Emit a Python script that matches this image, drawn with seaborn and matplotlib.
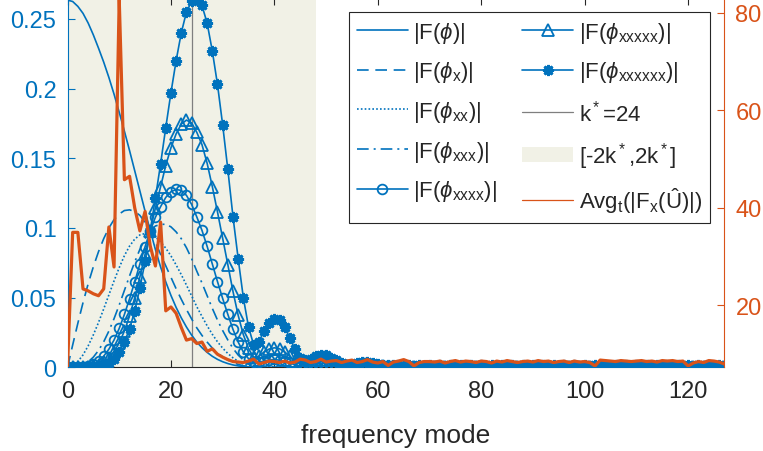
import matplotlib
matplotlib.use('Agg')
import matplotlib.pyplot as plt
from matplotlib.lines import Line2D
from matplotlib.patches import Patch
import seaborn as sns

# frequency modes 0..127
modes = list(range(128))
k_star = 24
band = [-2 * k_star, 2 * k_star]

# |F(phi)| and its derivatives (left axis)
phi = [0.2635, 0.2625, 0.2590, 0.2540, 0.2470, 0.2385, 0.2290, 0.2190, 0.2080, 0.1960, 0.1830, 0.1695, 0.1555, 0.1410, 0.1265, 0.1120,
       0.0980, 0.0845, 0.0720, 0.0613, 0.0516, 0.0430, 0.0355, 0.0289, 0.0231, 0.0181, 0.0141, 0.0107, 0.0079, 0.0057, 0.0040, 0.0027,
       0.0017, 0.0010, 0.0005, 0.0003, 0.0001, 0.0001, 0, 0, 0, 0, 0, 0, 0, 0, 0, 0,
       0, 0, 0, 0, 0, 0, 0, 0, 0, 0, 0, 0, 0, 0, 0, 0,
       0, 0, 0, 0, 0, 0, 0, 0, 0, 0, 0, 0, 0, 0, 0, 0,
       0, 0, 0, 0, 0, 0, 0, 0, 0, 0, 0, 0, 0, 0, 0, 0,
       0, 0, 0, 0, 0, 0, 0, 0, 0, 0, 0, 0, 0, 0, 0, 0,
       0, 0, 0, 0, 0, 0, 0, 0, 0, 0, 0, 0, 0, 0, 0, 0]

phi_x = [0.0, 0.0160, 0.0316, 0.0464, 0.0600, 0.0722, 0.0830, 0.0923, 0.1000, 0.1060, 0.1100, 0.1125, 0.1130, 0.1118, 0.1090, 0.1040,
         0.0975, 0.0898, 0.0810, 0.0728, 0.0645, 0.0564, 0.0488, 0.0415, 0.0347, 0.0283, 0.0229, 0.0181, 0.0138, 0.0103, 0.0075, 0.0052,
         0.0034, 0.0021, 0.0011, 0.0006, 0.0003, 0.0002, 0.0001, 0.0001, 0, 0, 0, 0, 0, 0, 0, 0,
         0, 0, 0, 0, 0, 0, 0, 0, 0, 0, 0, 0, 0, 0, 0, 0,
         0, 0, 0, 0, 0, 0, 0, 0, 0, 0, 0, 0, 0, 0, 0, 0,
         0, 0, 0, 0, 0, 0, 0, 0, 0, 0, 0, 0, 0, 0, 0, 0,
         0, 0, 0, 0, 0, 0, 0, 0, 0, 0, 0, 0, 0, 0, 0, 0,
         0, 0, 0, 0, 0, 0, 0, 0, 0, 0, 0, 0, 0, 0, 0, 0]

phi_xx = [0.0, 0.0010, 0.0041, 0.0089, 0.0154, 0.0233, 0.0322, 0.0419, 0.0520, 0.0620, 0.0715, 0.0801, 0.0870, 0.0920, 0.0950, 0.0960,
          0.0955, 0.0935, 0.0900, 0.0855, 0.0800, 0.0735, 0.0665, 0.0590, 0.0512, 0.0435, 0.0365, 0.0298, 0.0237, 0.0183, 0.0138, 0.0099,
          0.0068, 0.0043, 0.0024, 0.0013, 0.0007, 0.0004, 0.0003, 0.0003, 0.0003, 0.0003, 0.0002, 0.0001, 0.0001, 0, 0, 0,
          0, 0, 0, 0, 0, 0, 0, 0, 0, 0, 0, 0, 0, 0, 0, 0,
          0, 0, 0, 0, 0, 0, 0, 0, 0, 0, 0, 0, 0, 0, 0, 0,
          0, 0, 0, 0, 0, 0, 0, 0, 0, 0, 0, 0, 0, 0, 0, 0,
          0, 0, 0, 0, 0, 0, 0, 0, 0, 0, 0, 0, 0, 0, 0, 0,
          0, 0, 0, 0, 0, 0, 0, 0, 0, 0, 0, 0, 0, 0, 0, 0]

phi_xxx = [0.0, 0.0001, 0.0005, 0.0017, 0.0039, 0.0073, 0.0121, 0.0183, 0.0260, 0.0349, 0.0447, 0.0551, 0.0656, 0.0756, 0.0847, 0.0923,
           0.0980, 0.1014, 0.1025, 0.1027, 0.1008, 0.0972, 0.0923, 0.0858, 0.0780, 0.0690, 0.0605, 0.0514, 0.0423, 0.0339, 0.0264, 0.0196,
           0.0136, 0.0088, 0.0052, 0.0028, 0.0014, 0.0009, 0.0010, 0.0012, 0.0013, 0.0012, 0.0010, 0.0007, 0.0004, 0.0002, 0.0002, 0.0003,
           0.0004, 0.0004, 0.0004, 0.0003, 0.0002, 0.0001, 0, 0, 0, 0, 0, 0, 0, 0, 0, 0,
           0, 0, 0, 0, 0, 0, 0, 0, 0, 0, 0, 0, 0, 0, 0, 0,
           0, 0, 0, 0, 0, 0, 0, 0, 0, 0, 0, 0, 0, 0, 0, 0,
           0, 0, 0, 0, 0, 0, 0, 0, 0, 0, 0, 0, 0, 0, 0, 0,
           0, 0, 0, 0, 0, 0, 0, 0, 0, 0, 0, 0, 0, 0, 0, 0]

phi_xxxx = [0.0, 0.0, 0.0001, 0.0003, 0.0010, 0.0023, 0.0045, 0.0080, 0.0130, 0.0196, 0.0279, 0.0379, 0.0492, 0.0614, 0.0742, 0.0865,
            0.0980, 0.1077, 0.1153, 0.1219, 0.1260, 0.1276, 0.1269, 0.1234, 0.1169, 0.1079, 0.0983, 0.0868, 0.0741, 0.0615, 0.0494, 0.0380,
            0.0272, 0.0181, 0.0110, 0.0062, 0.0035, 0.0035, 0.0046, 0.0053, 0.0056, 0.0051, 0.0042, 0.0030, 0.0018, 0.0009, 0.0007, 0.0009,
            0.0011, 0.0012, 0.0011, 0.0009, 0.0006, 0.0004, 0.0003, 0.0003, 0.0004, 0.0005, 0.0005, 0.0004, 0.0003, 0.0002, 0.0002, 0.0002,
            0.0002, 0.0001, 0.0002, 0.0001, 0.0002, 0.0001, 0.0002, 0.0001, 0.0002, 0.0001, 0.0002, 0.0001, 0.0002, 0.0001, 0.0002, 0.0001,
            0.0002, 0.0001, 0.0002, 0.0001, 0.0002, 0.0001, 0.0002, 0.0001, 0.0002, 0.0001, 0.0002, 0.0001, 0.0002, 0.0001, 0.0002, 0.0001,
            0.0002, 0.0001, 0.0002, 0.0001, 0.0002, 0.0001, 0.0002, 0.0001, 0.0002, 0.0001, 0.0002, 0.0001, 0.0002, 0.0001, 0.0002, 0.0001,
            0.0002, 0.0001, 0.0002, 0.0001, 0.0002, 0.0001, 0.0002, 0.0001, 0.0002, 0.0001, 0.0002, 0.0001, 0.0002, 0.0001, 0.0002, 0.0001]

phi_xxxxx = [0.0, 0.0, 0.0, 0.0001, 0.0002, 0.0007, 0.0017, 0.0035, 0.0065, 0.0110, 0.0175, 0.0260, 0.0369, 0.0499, 0.0649, 0.0811,
             0.0980, 0.1144, 0.1297, 0.1448, 0.1575, 0.1675, 0.1745, 0.1774, 0.1754, 0.1686, 0.1598, 0.1464, 0.1297, 0.1115, 0.0927, 0.0737,
             0.0544, 0.0373, 0.0234, 0.0135, 0.0071, 0.0078, 0.0110, 0.0131, 0.0140, 0.0133, 0.0110, 0.0078, 0.0047, 0.0025, 0.0017, 0.0020,
             0.0027, 0.0029, 0.0029, 0.0022, 0.0015, 0.0009, 0.0006, 0.0006, 0.0009, 0.0010, 0.0010, 0.0008, 0.0007, 0.0006, 0.0005, 0.0005,
             0.0005, 0.0004, 0.0005, 0.0004, 0.0005, 0.0004, 0.0005, 0.0004, 0.0005, 0.0004, 0.0005, 0.0004, 0.0005, 0.0004, 0.0005, 0.0004,
             0.0005, 0.0004, 0.0005, 0.0004, 0.0005, 0.0004, 0.0005, 0.0004, 0.0005, 0.0004, 0.0005, 0.0004, 0.0005, 0.0004, 0.0005, 0.0004,
             0.0005, 0.0004, 0.0005, 0.0004, 0.0005, 0.0004, 0.0005, 0.0004, 0.0005, 0.0004, 0.0005, 0.0004, 0.0005, 0.0004, 0.0005, 0.0004,
             0.0005, 0.0004, 0.0005, 0.0004, 0.0005, 0.0004, 0.0005, 0.0004, 0.0005, 0.0004, 0.0005, 0.0004, 0.0005, 0.0004, 0.0005, 0.0004]

phi_xxxxxx = [0.0, 0.0, 0.0, 0.0, 0.0001, 0.0002, 0.0006, 0.0015, 0.0033, 0.0062, 0.0109, 0.0179, 0.0277, 0.0406, 0.0568, 0.0760,
              0.0980, 0.1216, 0.1460, 0.1720, 0.1970, 0.2200, 0.2400, 0.2550, 0.2626, 0.2640, 0.2597, 0.2470, 0.2270, 0.2030, 0.1740, 0.1420,
              0.1080, 0.0780, 0.0500, 0.0290, 0.0160, 0.0180, 0.0260, 0.0320, 0.0350, 0.0340, 0.0290, 0.0210, 0.0130, 0.0070, 0.0050, 0.0060,
              0.0080, 0.0090, 0.0090, 0.0070, 0.0050, 0.0030, 0.0020, 0.0020, 0.0030, 0.0035, 0.0035, 0.0030, 0.0025, 0.0020, 0.0020, 0.0020,
              0.0015, 0.0010, 0.0015, 0.0010, 0.0015, 0.0010, 0.0015, 0.0010, 0.0015, 0.0010, 0.0015, 0.0010, 0.0015, 0.0010, 0.0015, 0.0010,
              0.0015, 0.0010, 0.0015, 0.0010, 0.0015, 0.0010, 0.0015, 0.0010, 0.0015, 0.0010, 0.0015, 0.0010, 0.0015, 0.0010, 0.0015, 0.0010,
              0.0015, 0.0010, 0.0015, 0.0010, 0.0015, 0.0010, 0.0015, 0.0010, 0.0015, 0.0010, 0.0015, 0.0010, 0.0015, 0.0010, 0.0015, 0.0010,
              0.0015, 0.0010, 0.0015, 0.0010, 0.0015, 0.0010, 0.0015, 0.0010, 0.0015, 0.0010, 0.0015, 0.0010, 0.0015, 0.0010, 0.0015, 0.0010]

# Avg_t(|F_x(U)|) (right axis)
avg_fx_u = [7.4, 35.0, 35.0, 23.4, 23.0, 22.4, 22.0, 23.4, 36.1, 27.9,
            82.9, 45.8, 46.5, 40.0, 35.3, 39.3, 32.2, 28.1, 37.1, 18.9,
            19.7, 18.4, 15.5, 12.9, 13.2, 12.2, 12.5, 10.6, 11.1, 10.0,
            9.4, 8.9, 8.5, 8.4, 8.3, 8.6, 9.0, 8.0, 8.3, 8.6,
            8.5, 8.3, 8.6, 8.2, 8.4, 9.0, 8.8, 8.3, 8.5, 9.0,
            8.4, 8.6, 8.7, 8.3, 8.6, 8.8, 8.3, 8.5, 8.9, 8.4,
            8.2, 8.5, 7.7, 8.4, 8.6, 8.9, 8.5, 7.6, 8.3, 8.5,
            8.5, 8.4, 8.6, 8.2, 8.5, 8.7, 8.4, 8.6, 8.5, 8.3,
            8.6, 8.5, 8.2, 8.6, 8.4, 8.7, 8.5, 8.3, 8.5, 8.6,
            8.4, 8.7, 8.5, 8.6, 8.3, 8.5, 8.6, 8.3, 8.6, 8.4,
            8.5, 8.3, 7.6, 8.8, 8.7, 8.6, 8.5, 8.7, 8.6, 8.5,
            8.6, 8.7, 8.5, 8.6, 8.4, 8.7, 8.6, 8.7, 8.5, 8.6,
            7.6, 8.2, 8.5, 8.3, 8.7, 8.6, 8.4, 8.0]

labels = [r'|F($\phi$)|', r'|F($\phi_{\rm x}$)|', r'|F($\phi_{\rm xx}$)|', r'|F($\phi_{\rm xxx}$)|',
          r'|F($\phi_{\rm xxxx}$)|', r'|F($\phi_{\rm xxxxx}$)|', r'|F($\phi_{\rm xxxxxx}$)|',
          r'k$^*$=24', r'[-2k$^*$,2k$^*$]', r'Avg$_{\rm t}$(|F$_{\rm x}$($\hat{\rm U}$)|)']

sns.set_style('ticks')
plt.rcParams['font.family'] = ['Liberation Sans', 'DejaVu Sans']
plt.rcParams['mathtext.fontset'] = 'custom'
plt.rcParams['mathtext.rm'] = 'Liberation Sans'
plt.rcParams['mathtext.it'] = 'Liberation Sans:italic'

blue = '#0072BD'
orange = '#D95319'
dark = '#262626'
shade = '#F1F1E6'

fig = plt.figure(figsize=(7.63, 4.52), dpi=100)
ax = fig.add_axes([67.5 / 763, 83.7 / 452, 656.8 / 763, 369.5 / 452])

ax.axvspan(band[0], band[1], color=shade, lw=0, zorder=0)
ax.axvline(k_star, color='#7f7f7f', lw=0.9, zorder=1)

lw = 1.2
styles = [
    dict(linestyle='-'),
    dict(linestyle=(0, (7, 4))),
    dict(linestyle=(0, (1, 1.3))),
    dict(linestyle=(0, (7, 3, 1.2, 3))),
    dict(linestyle='-', marker='o', markersize=7, markerfacecolor='none', markeredgecolor=blue, markeredgewidth=1.3),
    dict(linestyle='-', marker='^', markersize=8, markerfacecolor='none', markeredgecolor=blue, markeredgewidth=1.3),
    dict(linestyle='-', marker=(8, 2, 0), markersize=8, markeredgecolor=blue, markeredgewidth=2.0),
]
series = [phi, phi_x, phi_xx, phi_xxx, phi_xxxx, phi_xxxxx, phi_xxxxxx]
for vals, st in zip(series, styles):
    sns.lineplot(x=modes, y=vals, ax=ax, color=blue, lw=lw, zorder=3, **st)

ax.set_xlim(0, 127)
ax.set_ylim(0, 0.2643 * 369.5 / 368.3)
ax.set_xticks([0, 20, 40, 60, 80, 100, 120])
ax.set_yticks([0, 0.05, 0.1, 0.15, 0.2, 0.25])
ax.set_yticklabels(['0', '0.05', '0.1', '0.15', '0.2', '0.25'])
ax.set_xlabel('frequency mode', fontsize=19, color=dark, labelpad=15)
ax.set_ylabel('')
ax.tick_params(axis='x', direction='in', length=5, width=0.8, colors=dark, labelsize=17, top=True, pad=9)
ax.tick_params(axis='y', direction='in', length=5, width=0.8, colors=blue, labelsize=17, right=False, pad=8)
ax.spines['left'].set_color(blue)
ax.spines['right'].set_visible(False)
ax.spines['top'].set_color(dark)
ax.spines['bottom'].set_color(dark)
for s in ax.spines.values():
    s.set_linewidth(0.8)

ax2 = ax.twinx()
sns.lineplot(x=modes, y=avg_fx_u, ax=ax2, color=orange, lw=2.3, zorder=4)
ax2.set_ylim(7.32, 7.32 + (82.87 - 7.32) * 369.5 / 368.3)
ax2.set_yticks([20, 40, 60, 80])
ax2.set_ylabel('')
ax2.tick_params(axis='y', direction='in', length=5, width=0.8, colors=orange, labelsize=17, pad=8)
for side in ['left', 'top', 'bottom']:
    ax2.spines[side].set_visible(False)
ax2.spines['right'].set_color(orange)
ax2.spines['right'].set_linewidth(0.8)

handles = []
for st in styles:
    handles.append(Line2D([], [], color=blue, lw=lw, **st))
handles.append(Line2D([], [], color='#7f7f7f', lw=0.9))
handles.append(Patch(facecolor=shade, edgecolor='none'))
handles.append(Line2D([], [], color=orange, lw=0.9))

leg = fig.legend(handles, labels, ncol=2, loc='upper left', bbox_to_anchor=(349 / 763, 1 - 13 / 452),
                 fontsize=16, frameon=True, fancybox=False, framealpha=1, edgecolor=dark,
                 borderaxespad=0, borderpad=0.35, handlelength=2.3, handletextpad=0.25,
                 columnspacing=1.1, labelspacing=0.66, numpoints=1)
leg.get_frame().set_linewidth(0.8)

fig.savefig('out.png', dpi=100)
